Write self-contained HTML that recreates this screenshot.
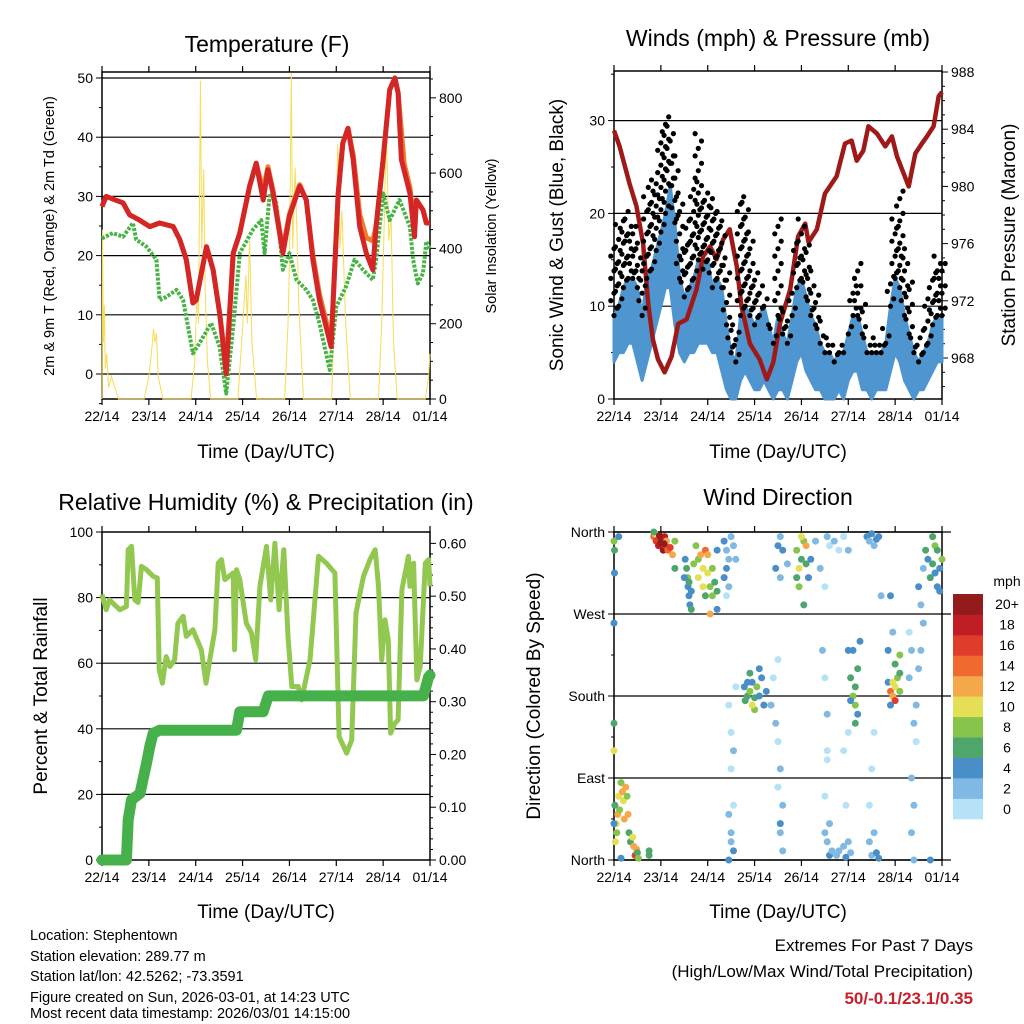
<!DOCTYPE html>
<html><head><meta charset="utf-8">
<style>
html,body{margin:0;padding:0;background:#fff;}
svg{display:block;font-family:"Liberation Sans",sans-serif;}
</style></head>
<body>
<svg id="c" width="1024" height="1024" viewBox="0 0 1024 1024" xmlns="http://www.w3.org/2000/svg">
<rect width="1024" height="1024" fill="#fff"/>
<text x="267" y="52" font-size="23" text-anchor="middle">Temperature (F)</text>
<text x="778" y="46" font-size="23" text-anchor="middle">Winds (mph) &amp; Pressure (mb)</text>
<text x="266" y="510" font-size="23" text-anchor="middle">Relative Humidity (%) &amp; Precipitation (in)</text>
<text x="778" y="505" font-size="23" text-anchor="middle">Wind Direction</text>
<text transform="translate(54,236) rotate(-90)" font-size="14.5" text-anchor="middle">2m &amp; 9m T (Red, Orange) &amp; 2m Td (Green)</text>
<text transform="translate(496,236) rotate(-90)" font-size="14.5" text-anchor="middle">Solar Insolation (Yellow)</text>
<text transform="translate(563,235) rotate(-90)" font-size="19" text-anchor="middle">Sonic Wind &amp; Gust (Blue, Black)</text>
<text transform="translate(1015,235) rotate(-90)" font-size="19" text-anchor="middle">Station Pressure (Maroon)</text>
<text transform="translate(47,696) rotate(-90)" font-size="19" text-anchor="middle">Percent &amp; Total Rainfall</text>
<text transform="translate(540,696) rotate(-90)" font-size="19" text-anchor="middle">Direction (Colored By Speed)</text>
<text x="266" y="458" font-size="19" text-anchor="middle">Time (Day/UTC)</text>
<text x="778" y="458" font-size="19" text-anchor="middle">Time (Day/UTC)</text>
<text x="266" y="918" font-size="19" text-anchor="middle">Time (Day/UTC)</text>
<text x="778" y="918" font-size="19" text-anchor="middle">Time (Day/UTC)</text>
<g font-size="14.5">
<text x="30" y="940">Location: Stephentown</text>
<text x="30" y="961">Station elevation: 289.77 m</text>
<text x="30" y="981">Station lat/lon: 42.5262; -73.3591</text>
<text x="30" y="1002">Figure created on Sun, 2026-03-01, at 14:23 UTC</text>
<text x="30" y="1018">Most recent data timestamp: 2026/03/01 14:15:00</text>
</g>
<g text-anchor="end" font-size="17">
<text x="973" y="951">Extremes For Past 7 Days</text>
<text x="973" y="977">(High/Low/Max Wind/Total Precipitation)</text>
<text x="973" y="1004" font-weight="bold" fill="#c8202a">50/-0.1/23.1/0.35</text>
</g>
</svg>
<script>
const dayLabels=["22/14","23/14","24/14","25/14","26/14","27/14","28/14","01/14"];
const tempTicks=[0,10,20,30,40,50];
const solarTicks=[0,200,400,600,800];
const windTicks=[0,10,20,30];
const presTicks=[968,972,976,980,984,988];
const rhTicks=[0,20,40,60,80,100];
const precipTicks=["0.00","0.10","0.20","0.30","0.40","0.50","0.60"];
const dirLabels=["North","East","South","West","North"];
const spdLabels=["0","2","4","6","8","10","12","14","16","18","20+"];
const spdColors=["#b5e2f7","#80b9e3","#4a8ec8","#4ea66d","#86c44b","#e5df55","#f5a84b","#ee6a2f","#e03c2c","#bf1e24","#941b1b"];

const tempRed=[[0,28.3],[0.09,30],[0.45,28.9],[0.59,26.9],[0.8,26],[1.02,24.9],[1.23,25.5],[1.52,24.9],[1.66,22.7],[1.8,19.3],[1.94,12],[2.01,12.5],[2.23,21.5],[2.37,17.6],[2.51,10.3],[2.65,0],[2.8,20.4],[2.94,23.8],[3.15,31.7],[3.29,35.6],[3.44,29.4],[3.54,34.5],[3.65,30.6],[3.86,20.4],[4.0,26.6],[4.22,31.7],[4.36,29.4],[4.5,19.3],[4.64,12.5],[4.89,4.6],[5.04,30.5],[5.14,39],[5.25,41.5],[5.36,36.2],[5.5,24.9],[5.64,20.4],[5.78,17.6],[5.85,24.9],[6.0,36.2],[6.14,48],[6.25,50],[6.32,47.5],[6.39,36.2],[6.57,30.5],[6.67,23.2],[6.71,29.4],[6.85,27.7],[6.92,25.5],[7,25.5]];
const tempOrange=[[0,28.3],[0.09,30],[0.45,28.9],[0.59,26.9],[0.8,26],[1.02,24.9],[1.23,25.5],[1.52,24.9],[1.66,22.7],[1.8,19.3],[1.94,12],[2.01,12.5],[2.23,21.5],[2.37,17.6],[2.51,10.3],[2.65,1.5],[2.8,20.4],[2.94,23.8],[3.15,31.7],[3.29,35.6],[3.44,31],[3.54,35],[3.65,31],[3.86,21],[4.0,27],[4.22,32],[4.36,29.4],[4.5,20],[4.64,13.5],[4.89,5.5],[5.04,30.5],[5.14,39],[5.25,41.5],[5.36,37],[5.5,27],[5.64,23],[5.78,22.5],[5.85,25],[6.0,36.2],[6.14,48],[6.25,50],[6.32,47.5],[6.45,35.5],[6.57,31.5],[6.67,25],[6.71,29.4],[6.85,27.7],[6.92,25.5],[7,25.5]];
const tempDew=[[0,22.9],[0.23,23.8],[0.45,23.2],[0.66,25.5],[0.73,22.7],[0.95,21.5],[1.16,19.3],[1.23,12.5],[1.37,13],[1.59,14.2],[1.73,12.5],[1.94,3.5],[2.08,5.2],[2.33,8.6],[2.51,4.6],[2.65,-3.3],[2.8,8],[2.94,20.4],[3.22,24.4],[3.4,26],[3.47,20.4],[3.58,30.5],[3.72,28.9],[3.86,17.6],[4.0,20.4],[4.15,15.9],[4.36,14.2],[4.5,12.5],[4.64,8.6],[4.86,0.7],[5.0,11.4],[5.21,14.8],[5.39,19.3],[5.57,17.6],[5.78,15.9],[5.85,19.3],[6.0,30.5],[6.14,26],[6.35,29.4],[6.57,24.9],[6.64,19.3],[6.74,15.3],[6.85,17],[6.92,22.4],[7,21]];
const solar=[[0,0],[0.01,450],[0.03,150],[0.05,250],[0.07,80],[0.1,120],[0.14,30],[0.2,60],[0.35,0],[0.9,0],[1.0,60],[1.06,130],[1.1,185],[1.13,150],[1.16,175],[1.2,60],[1.3,0],[1.9,0],[1.98,100],[2.03,300],[2.06,200],[2.1,845],[2.13,400],[2.17,610],[2.2,300],[2.25,100],[2.32,0],[2.9,0],[2.98,150],[3.03,250],[3.07,330],[3.1,200],[3.15,420],[3.2,150],[3.3,0],[3.9,0],[3.97,200],[4.0,350],[4.04,867],[4.07,400],[4.12,615],[4.16,450],[4.2,250],[4.3,0],[4.9,0],[4.98,300],[5.03,677],[5.08,400],[5.12,500],[5.2,200],[5.3,0],[5.9,0],[5.97,200],[6.03,500],[6.07,721],[6.12,420],[6.17,480],[6.22,150],[6.3,0],[6.9,0],[6.97,60],[7,120]];

const pressure=[[0,983.9],[0.12,982.8],[0.33,980.2],[0.48,978.6],[0.62,976],[0.73,971.8],[0.83,969.3],[0.94,967.9],[1.08,967],[1.23,968.1],[1.37,970.4],[1.55,970.7],[1.76,972.8],[1.9,975.1],[2.05,975.8],[2.19,974.9],[2.33,976.3],[2.47,977],[2.62,974.4],[2.72,971.6],[2.9,969],[3.11,967.9],[3.26,966.5],[3.4,967.7],[3.54,970.4],[3.76,972.8],[3.93,976.5],[4.08,977.4],[4.15,976.1],[4.33,977],[4.5,979.5],[4.75,980.7],[4.93,983],[5.07,983.2],[5.18,981.8],[5.32,982.5],[5.43,984.2],[5.61,983.7],[5.79,982.8],[5.93,983.5],[6.04,982.1],[6.29,980],[6.43,982.3],[6.57,983],[6.68,983.5],[6.82,984.2],[6.93,986.3],[7,986.6]];
const windT=[0,.1,.2,.3,.4,.5,.6,.7,.8,.9,1,1.1,1.2,1.3,1.4,1.5,1.6,1.7,1.8,1.9,2,2.1,2.2,2.3,2.4,2.5,2.6,2.7,2.8,2.9,3,3.1,3.2,3.3,3.4,3.5,3.6,3.7,3.8,3.9,4,4.1,4.2,4.3,4.4,4.5,4.6,4.7,4.8,4.9,5,5.1,5.2,5.3,5.4,5.5,5.6,5.7,5.8,5.9,6,6.1,6.2,6.3,6.4,6.5,6.6,6.7,6.8,6.9,7];
const gustHi=[17,19,20,21,19,17,14,22,24,24,29,31,30,27,22,17,20,24,29,22,23,22,21,20,15,8,8,22,22,18,14,13,11,8,8,20,10,9,12,17,20,17,14,12,9,6,7,5,6,5,8,13,15,11,7,6,7,6,8,14,20,23,17,13,7,6,8,11,14,16,15];
const windHi=[9,10,12,13,13,12,9,13,14,16,18,20,23,19,13,11,12,13,15,14,15,12,13,12,8,5,4,9,10,9,8,9,10,8,6,9,7,6,9,12,13,11,9,8,6,5,5,4,5,5,7,9,9,7,5,5,5,5,6,10,13,12,9,7,5,4,5,6,8,9,9];
const windLo=[4,5,5,6,6,4,2,4,6,8,10,12,12,8,5,4,5,5,6,6,6,5,5,3,1,0,0,2,3,2,1,1,2,1,0,1,1,0,2,4,5,3,2,1,1,0,0,0,1,0,2,3,3,1,1,0,1,1,1,3,5,4,2,1,0,1,1,2,3,4,4];

const rh=[[0,80.9],[0.09,76.3],[0.16,79.3],[0.38,76.3],[0.52,77.3],[0.56,94.6],[0.63,95.6],[0.7,79.3],[0.77,78.5],[0.84,89.5],[0.95,88.5],[1.09,86.5],[1.18,86],[1.22,58],[1.29,53.9],[1.37,62],[1.45,59],[1.55,61],[1.62,72.2],[1.73,74.3],[1.8,68.2],[1.94,70.2],[2.12,64.1],[2.22,53.9],[2.3,61],[2.41,70.2],[2.48,90.5],[2.55,91.6],[2.62,85.5],[2.8,87.5],[2.83,64.1],[2.87,88.5],[2.94,85.5],[3.08,72.2],[3.19,69.2],[3.28,61],[3.37,83.4],[3.51,95.6],[3.6,79.3],[3.69,96.6],[3.78,76.3],[3.88,94.6],[3.97,68.2],[4.05,52.9],[4.19,52.9],[4.26,48.8],[4.44,61],[4.51,73.2],[4.62,92.6],[4.79,90.5],[4.97,87.5],[5.06,37.6],[5.22,32.6],[5.33,36.6],[5.42,75.3],[5.58,86.5],[5.72,91.6],[5.83,94.6],[5.9,83.4],[5.97,61],[6.04,73.2],[6.11,67.1],[6.16,38.7],[6.25,41.7],[6.32,42.7],[6.4,82.4],[6.54,92.6],[6.57,83.4],[6.65,90.5],[6.72,54.9],[6.79,59],[6.9,90.5],[6.97,91.6],[7,83.4]];
const precip=[[0,0],[0.52,0],[0.56,0.076],[0.63,0.114],[0.81,0.126],[0.95,0.183],[1.02,0.215],[1.09,0.24],[1.23,0.246],[2.87,0.246],[2.94,0.281],[3.44,0.281],[3.55,0.311],[6.86,0.311],[6.97,0.347],[7,0.35]];

const dirObs=[[0.02,60,6],[0.05,40,10],[0.08,50,12],[0.1,70,11],[0.12,55,8],[0.15,85,8],[0.18,75,12],[0.2,65,10],[0.22,45,12],[0.25,80,12],[0.28,70,8],[0.3,50,12],[0.32,30,7],[0.35,20,6],[0.4,25,10],[0.42,15,12],[0.45,5,16],[0.48,12,12],[0.5,8,6],[0.52,2,8],[0.06,30,8],[0.03,20,10],[0,40,4],[0,150,6],[0,120,10],[0,260,4],[0.01,340,6],[0,350,8],[0.01,315,4],[0.1,355,4],[0.15,2,4],[0.75,5,6],[0.75,10,6],
[0.85,355,14],[0.9,350,16],[0.95,345,18],[1.0,348,20],[1.02,352,20],[1.05,340,20],[1.08,355,18],[1.1,345,16],[1.12,350,12],[1.15,340,14],[0.88,358,10],[1.2,343,16],[1.25,335,12],[1.3,350,8],[1.3,320,6],[0.85,360,6],[0.97,356,20],[1.07,347,20],
[1.55,320,6],[1.58,300,5],[1.6,290,4],[1.62,280,4],[1.57,310,8],[1.65,275,6],[1.52,330,4],[1.6,305,6],[1.65,295,5],[1.7,325,9],[1.5,310,4],
[1.8,330,8],[1.85,335,12],[1.9,320,10],[1.95,340,14],[2.0,315,10],[2.05,300,8],[1.9,300,10],[2.0,335,12],[2.1,320,8],[2.1,290,9],[2.15,305,7],[2.2,295,6],[2.2,275,4],[1.8,310,11],[2.05,270,12],[1.95,290,6],[1.75,345,8],[2.2,340,5],
[2.35,350,4],[2.4,340,3],[2.45,330,2],[2.4,320,4],[2.55,345,2],[2.6,330,2],[2.5,355,3],[2.35,310,4],[2.45,300,2],[2.4,290,1],
[2.78,190,5],[2.8,175,7],[2.85,180,6],[2.9,185,8],[2.95,195,5],[3.0,178,6],[3.05,190,9],[3.1,180,5],[3.15,200,4],[3.2,170,4],[2.9,205,6],[3.0,165,8],[2.85,195,4],[3.25,185,4],[2.95,170,10],[3.1,210,5],
[2.45,170,1],[2.5,140,1],[2.55,120,2],[2.5,100,1],[2.45,50,3],[2.5,20,3],[2.55,10,4],[2.45,0,4],[2.5,30,2],[2.6,190,0],[2.55,60,1],
[3.35,170,2],[3.45,150,3],[3.5,130,1],[3.55,100,2],[3.6,60,2],[3.55,30,3],[3.6,10,3],[3.5,80,0],[3.4,200,0],[3.5,220,1],[3.55,40,4],
[3.5,345,4],[3.55,355,3],[3.6,340,4],[3.45,320,4],[3.7,325,2],[3.55,310,3],[3.9,340,8],[3.95,320,10],[4.0,330,6],[4.05,350,8],[4.1,325,6],[4.15,310,4],[3.95,300,8],[4.05,280,6],[4.1,345,12],[4.2,330,4],[4.0,355,10],[3.9,310,6],
[4.3,350,2],[4.4,320,3],[4.5,300,1],[4.45,230,2],[4.5,200,1],[4.55,160,2],[4.55,120,1],[4.5,70,1],[4.6,40,3],[4.55,20,2],[4.6,5,4],[4.65,10,3],[4.5,30,2],[4.55,110,0],
[4.55,355,2],[4.6,345,1],[4.7,350,2],[4.8,340,1],[4.9,355,0],[5.0,340,2],[4.75,5,3],[4.8,10,2],[4.9,15,2],[4.95,3,4],[5.0,20,3],[5.05,8,2],[5.0,230,4],
[5.05,200,6],[5.1,180,8],[5.15,190,7],[5.2,210,6],[5.1,230,5],[5.15,170,8],[5.2,160,4],[5.05,175,4],[5.25,240,4],[5.15,150,6],[4.95,60,1],[4.9,120,1],[5.0,140,1],
[5.4,355,4],[5.45,350,3],[5.5,358,4],[5.55,345,3],[5.6,352,4],[5.65,355,4],[5.55,30,2],[5.45,20,2],[5.5,5,3],[5.6,8,4],[5.65,2,4],[5.45,60,1],[5.5,100,1],[5.55,140,1],[5.7,290,2],
[5.85,195,4],[5.9,185,14],[5.95,180,12],[6.0,190,10],[6.05,200,8],[6.1,185,8],[5.95,195,10],[6.0,175,16],[6.1,205,6],[5.9,170,4],[6.0,215,6],[6.1,225,8],[5.85,230,4],[5.9,290,4],[5.95,250,3],
[6.3,200,2],[6.35,230,2],[6.4,150,2],[6.35,90,3],[6.4,60,2],[6.35,30,3],[6.4,0,2],[6.3,250,0],[6.45,130,1],
[6.5,300,4],[6.55,280,2],[6.6,320,3],[6.65,340,6],[6.7,330,4],[6.75,310,6],[6.8,325,6],[6.85,345,8],[6.9,340,6],[6.95,320,5],[7.0,330,8],[6.9,300,4],[6.85,315,4],[6.8,355,6],[6.6,260,2],[6.55,230,2],[6.5,210,2],[6.45,170,2],[6.75,0,4],[6.95,295,5]];

const NS="http://www.w3.org/2000/svg";
const svg=document.getElementById('c');
function mk(tag,attrs,parent){const e=document.createElementNS(NS,tag);for(const k in attrs)e.setAttribute(k,attrs[k]);(parent||svg).appendChild(e);return e;}
function grp(name){const g=mk('g',{});return g;}

const P1={x0:102,x1:430,y0:72,y1:399}, P2={x0:614,x1:942,y0:71,y1:399}, P3={x0:102,x1:430,y0:532,y1:860}, P4={x0:614,x1:942,y0:532,y1:860};
function xs(P,t){return P.x0+t*(P.x1-P.x0)/7;}
const yTemp=v=>374-v*5.92, ySolar=v=>399-v*0.3765;
const yWind=v=>399-v*9.28, yPres=v=>72+(988-v)*14.3;
const yRH=v=>860-v*3.28, yPrecip=v=>860-v*527.7;
const yDir=d=>860-d/360*328;

function pathD(P,arr,fy){return arr.map((p,i)=>(i?'L':'M')+xs(P,p[0]).toFixed(1)+','+fy(p[1]).toFixed(1)).join('');}

function frame(P,name,gridYs,lefts,rights,gridExt){
  const g=grp(name+'-axes');
  gridYs.forEach(y=>{const l=mk('line',{x1:P.x0,x2:P.x1+(gridExt||0),y1:y,y2:y,stroke:'#000','stroke-width':1.2},g);});
  const r=mk('rect',{x:P.x0,y:P.y0,width:P.x1-P.x0,height:P.y1-P.y0,fill:'none',stroke:'#000','stroke-width':1.5},g);
  
  dayLabels.forEach((lab,i)=>{const x=xs(P,i);
    mk('line',{x1:x,x2:x,y1:P.y1,y2:P.y1+6,stroke:'#000','stroke-width':1.2},g);
    mk('line',{x1:x,x2:x,y1:P.y0,y2:P.y0-6,stroke:'#000','stroke-width':1.2},g);
    const t=mk('text',{x:x,y:P.y1+22,'font-size':14,'text-anchor':'middle'},g);t.textContent=lab;
    });
  lefts.forEach(o=>{mk('line',{x1:P.x0-(o.minor?3:6),x2:P.x0,y1:o.y,y2:o.y,stroke:'#000','stroke-width':1},g);
    if(o.label!==undefined){const t=mk('text',{x:P.x0-9,y:o.y+5,'font-size':14,'text-anchor':'end'},g);t.textContent=o.label;
      }});
  rights.forEach(o=>{mk('line',{x1:P.x1,x2:P.x1+(o.minor?3:6),y1:o.y,y2:o.y,stroke:'#000','stroke-width':1},g);
    if(o.label!==undefined){const t=mk('text',{x:P.x1+9,y:o.y+5,'font-size':14,'text-anchor':'start'},g);t.textContent=o.label;
      }});
}

// Panel 1
(function(){
  const left=[],right=[];
  tempTicks.forEach(v=>left.push({y:yTemp(v),label:String(v)}));
  for(let v=-5;v<=50;v+=5){if(v%10)left.push({y:yTemp(v),minor:1});}
  solarTicks.forEach(v=>right.push({y:ySolar(v),label:String(v)}));
  for(let v=50;v<=850;v+=50){if(v%200)right.push({y:ySolar(v),minor:1});}
  frame(P1,'temperature',tempTicks.map(yTemp),left,right);
  const g=grp('temperature-series');
  let e=mk('path',{d:pathD(P1,solar,ySolar),fill:'none',stroke:'#f8dc55','stroke-width':1},g);
  
  e=mk('path',{d:pathD(P1,tempDew,yTemp),fill:'none',stroke:'#48b445','stroke-width':4,'stroke-dasharray':'3 1.5','stroke-linejoin':'round'},g);
  
  e=mk('path',{d:pathD(P1,tempOrange,yTemp),fill:'none',stroke:'#f07c2a','stroke-width':5,'stroke-linejoin':'round'},g);
  
  e=mk('path',{d:pathD(P1,tempRed,yTemp),fill:'none',stroke:'#d42626','stroke-width':5,'stroke-linejoin':'round'},g);
  
})();

// Panel 2
(function(){
  const left=[],right=[];
  windTicks.forEach(v=>left.push({y:yWind(v),label:String(v)}));
  for(let v=5;v<=35;v+=5){if(v%10)left.push({y:yWind(v),minor:1});}
  presTicks.forEach(v=>right.push({y:yPres(v),label:String(v)}));
  for(let v=966;v<=988;v+=1){if(v%4)right.push({y:yPres(v),minor:1});}
  frame(P2,'winds',windTicks.slice(1).map(yWind),left,right);
  const g=grp('winds-series');
  const dots=grp('gust-dots');
  windT.forEach((t,i)=>{const x=xs(P2,t);let k=0;
    for(let v=windHi[i];v<=gustHi[i];v+=0.8){k++;
      const c=mk('circle',{cx:(x+((k%3)-1)*3.2).toFixed(1),cy:yWind(v).toFixed(1),r:2.6,fill:'#000'},dots);
      }});
  let d='';windT.forEach((t,i)=>{d+=(i?'L':'M')+xs(P2,t).toFixed(1)+','+yWind(windHi[i]).toFixed(1);});
  for(let i=windT.length-1;i>=0;i--)d+='L'+xs(P2,windT[i]).toFixed(1)+','+yWind(windLo[i]).toFixed(1);
  let e=mk('path',{d:d+'Z',fill:'#4f95cf',stroke:'#4f95cf','stroke-width':3,'stroke-linejoin':'round'},g);
  
  e=mk('path',{d:pathD(P2,pressure,yPres),fill:'none',stroke:'#a01919','stroke-width':4.5,'stroke-linejoin':'round'},g);
  
})();

// Panel 3
(function(){
  const left=[],right=[];
  rhTicks.forEach(v=>left.push({y:yRH(v),label:String(v)}));
  for(let v=10;v<=90;v+=20)left.push({y:yRH(v),minor:1});
  precipTicks.forEach(s=>right.push({y:yPrecip(parseFloat(s)),label:s}));
  for(let v=0.02;v<0.6;v+=0.02){if(Math.round(v*100)%10)right.push({y:yPrecip(v),minor:1});}
  frame(P3,'humidity',rhTicks.slice(1,5).map(yRH),left,right);
  const g=grp('humidity-series');
  let e=mk('path',{d:pathD(P3,rh,yRH),fill:'none',stroke:'#92c850','stroke-width':5,'stroke-linejoin':'round'},g);
  
  e=mk('path',{d:pathD(P3,precip,yPrecip),fill:'none',stroke:'#46b14a','stroke-width':11,'stroke-linejoin':'round','stroke-linecap':'round'},g);
  
})();

// Panel 4
(function(){
  const left=[];
  dirLabels.forEach((lab,i)=>left.push({y:yDir(i*90),label:lab}));
  for(let d=45;d<360;d+=90)left.push({y:yDir(d),minor:1});
  frame(P4,'wind-direction',[90,180,270,360,0].map(yDir),left,[],9);
  const g=grp('wind-direction-points');
  dirObs.forEach(o=>{const b=Math.min(10,Math.floor(o[2]/2));
    const c=mk('circle',{cx:xs(P4,o[0]).toFixed(1),cy:yDir(o[1]).toFixed(1),r:3.5,fill:spdColors[b]},g);
    });
  const lg=grp('speed-colorbar');
  const h=225/11;
  spdColors.forEach((col,i)=>{const y=819-(i+1)*h;
    const r=mk('rect',{x:953,y:y.toFixed(1),width:30,height:(h+0.3).toFixed(1),fill:col},lg);
    
    const t=mk('text',{x:1007,y:(y+h/2+5).toFixed(1),'font-size':14,'text-anchor':'middle'},lg);t.textContent=spdLabels[i];
    });
  const t=mk('text',{x:1007,y:586,'font-size':14,'text-anchor':'middle'},lg);t.textContent='mph';
  
})();
</script>
</body></html>
